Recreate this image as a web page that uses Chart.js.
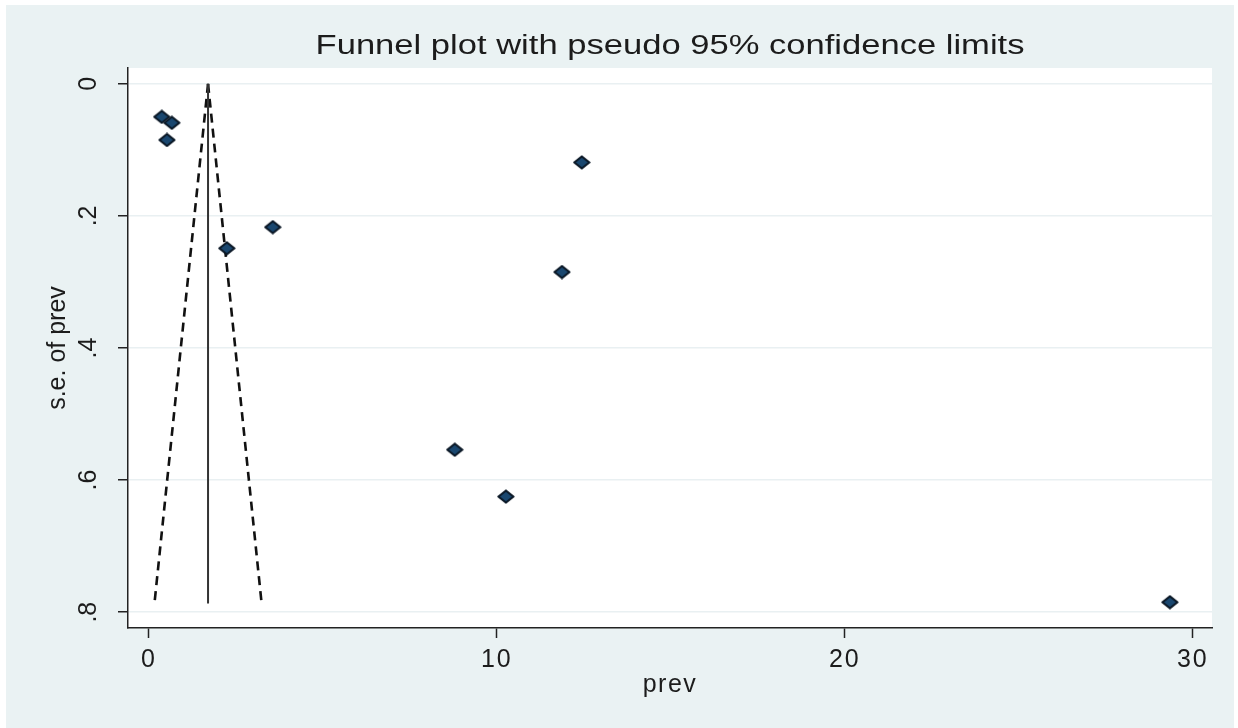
<!DOCTYPE html>
<html>
<head>
<meta charset="utf-8">
<script src="https://cdn.jsdelivr.net/npm/chart.js@4"></script>
<style>
  body { margin: 0; background: #fff; }
  canvas { display: block; }
</style>
</head>
<body>
<canvas id="funnel" width="1238" height="728"></canvas>
<script>
// study estimates
const prev = [0.37, 0.66, 0.52, 2.24, 3.56, 12.44, 11.87, 8.79, 10.26, 29.34];
const sePrev = [0.050, 0.059, 0.085, 0.249, 0.217, 0.119, 0.285, 0.554, 0.625, 0.785];

// funnel: pooled estimate and pseudo 95% limits at se = 0 and se = max
const funnelSe = [0, 0.787];
const pooled = [1.70, 1.70];
const lowerLimit = [1.70, 0.16];
const upperLimit = [1.70, 3.24];

const xTicks = [0, 10, 20, 30];
const yTicks = [0, 0.2, 0.4, 0.6, 0.8];
const yTickLabels = ['0', '.2', '.4', '.6', '.8'];

const pts = (xs, ys) => xs.map((x, i) => ({ x: x, y: ys[i] }));

const fontFam = '"Liberation Sans", Arial, sans-serif';
const ink = '#1c1c1c';

// the source picture is a bit wider than tall, so the diamond is too
function diamondMarker() {
    const c = document.createElement('canvas');
    c.width = 18;
    c.height = 15;
    const g = c.getContext('2d');
    g.beginPath();
    g.moveTo(1.5, 7.5);
    g.lineTo(9, 1.5);
    g.lineTo(16.5, 7.5);
    g.lineTo(9, 13.5);
    g.closePath();
    g.lineJoin = 'round';
    g.fillStyle = '#1A476F';
    g.fill();
    g.lineWidth = 2.2;
    g.strokeStyle = '#0b1826';
    g.stroke();
    return c;
}

const stataBg = {
    id: 'stataBg',
    beforeDraw(chart) {
        const { ctx, chartArea: a } = chart;
        ctx.save();
        ctx.fillStyle = '#ffffff';
        ctx.fillRect(0, 0, chart.width, chart.height);
        ctx.fillStyle = '#EAF2F3';
        ctx.fillRect(6, 5, chart.width - 10, chart.height - 5);
        ctx.fillStyle = '#ffffff';
        ctx.fillRect(a.left, a.top, a.right - a.left, a.bottom - a.top);
        ctx.restore();

        // widen horizontal text a little, like the stretched original
        if (!chart.$wide) {
            chart.$wide = true;
            const tb = chart.titleBlock;
            const drawTitle = tb.draw;
            tb.draw = function () {
                const c = chart.ctx;
                const from = (this.left + this.right) / 2;
                const to = (chart.chartArea.left + chart.chartArea.right) / 2;
                c.save();
                c.translate(to, 0);
                c.scale(1.28, 1);
                c.translate(-from, 0);
                drawTitle.apply(this, arguments);
                c.restore();
            };
            const xs = chart.scales.x;
            const wrap = (name, sp) => {
                const orig = xs[name];
                xs[name] = function () {
                    const c = chart.ctx;
                    const old = c.letterSpacing;
                    c.letterSpacing = sp;
                    orig.apply(this, arguments);
                    c.letterSpacing = old || '0px';
                };
            };
            wrap('drawLabels', '2px');
            wrap('drawTitle', '1.5px');
        }
    }
};

document.addEventListener('DOMContentLoaded', () => {
    const ctx = document.getElementById('funnel').getContext('2d');

    new Chart(ctx, {
        type: 'scatter',
        data: {
            datasets: [{
                label: 'studies',
                data: pts(prev, sePrev),
                pointStyle: diamondMarker(),
                pointRadius: 7
            }, {
                label: 'pooled',
                data: pts(pooled, funnelSe),
                showLine: true,
                pointRadius: 0,
                borderColor: '#333333',
                borderWidth: 2
            }, {
                label: 'lower',
                data: pts(lowerLimit, funnelSe),
                showLine: true,
                pointRadius: 0,
                borderColor: '#111111',
                borderWidth: 2.6,
                borderDash: [9, 6]
            }, {
                label: 'upper',
                data: pts(upperLimit, funnelSe),
                showLine: true,
                pointRadius: 0,
                borderColor: '#111111',
                borderWidth: 2.6,
                borderDash: [9, 6]
            }]
        },
        options: {
            responsive: false,
            animation: false,
            devicePixelRatio: 1,
            layout: { padding: { left: 0, right: 26, top: 0, bottom: 0 } },
            plugins: {
                legend: { display: false },
                tooltip: { enabled: false },
                title: {
                    display: true,
                    text: 'Funnel plot with pseudo 95% confidence limits',
                    color: ink,
                    font: { family: fontFam, size: 27, weight: 'normal', lineHeight: 1.2 },
                    padding: { top: 30.5, bottom: 5.1 }
                }
            },
            scales: {
                x: {
                    type: 'linear',
                    min: -0.6,
                    max: 30.55,
                    afterBuildTicks: s => { s.ticks = xTicks.map(v => ({ value: v })); },
                    afterFit: s => { s.height = 100; },
                    grid: {
                        drawOnChartArea: false,
                        drawTicks: true,
                        tickLength: 10,
                        tickColor: '#222',
                        tickWidth: 1.5
                    },
                    border: { display: true, color: '#222', width: 1.5 },
                    ticks: {
                        color: ink,
                        padding: 7,
                        maxRotation: 0,
                        font: { family: fontFam, size: 25 }
                    },
                    title: {
                        display: true,
                        text: 'prev',
                        color: ink,
                        font: { family: fontFam, size: 25, lineHeight: 1.2 },
                        padding: { top: 0, bottom: 28 }
                    }
                },
                y: {
                    type: 'linear',
                    reverse: true,
                    min: -0.024,
                    max: 0.824,
                    afterBuildTicks: s => { s.ticks = yTicks.map(v => ({ value: v })); },
                    afterFit: s => { s.width = 128; },
                    grid: {
                        color: '#E9F0F2',
                        lineWidth: 1.5,
                        drawTicks: true,
                        tickLength: 10,
                        tickColor: '#222',
                        tickWidth: 1.5
                    },
                    border: { display: true, color: '#222', width: 1.5 },
                    ticks: {
                        color: ink,
                        padding: 18,
                        minRotation: 90,
                        maxRotation: 90,
                        crossAlign: 'center',
                        font: { family: fontFam, size: 25 },
                        callback: (v) => {
                            const i = yTicks.indexOf(v);
                            return i >= 0 ? yTickLabels[i] : '';
                        }
                    },
                    title: {
                        display: true,
                        text: 's.e. of prev',
                        color: ink,
                        font: { family: fontFam, size: 25, lineHeight: 1.2 },
                        padding: { top: 43, bottom: 0 }
                    }
                }
            }
        },
        plugins: [stataBg]
    });
});
</script>
</body>
</html>
